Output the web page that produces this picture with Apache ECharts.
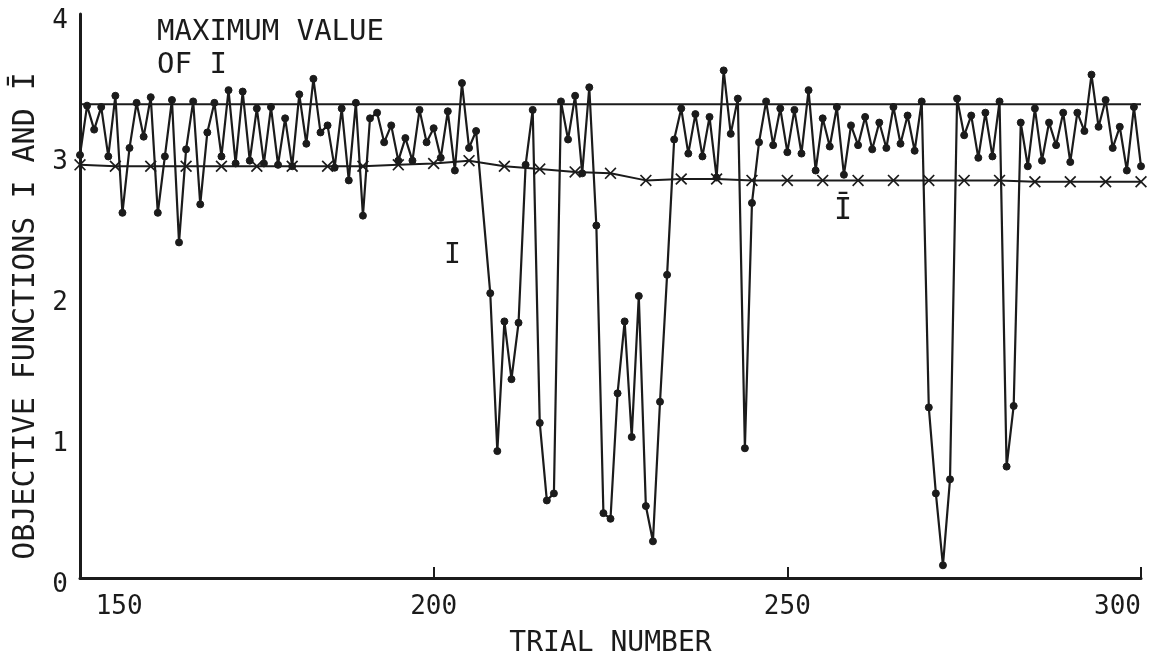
<!DOCTYPE html>
<html>
<head>
<meta charset="utf-8">
<style>
  html, body { margin: 0; padding: 0; background: #fff; }
  #chart { width: 1158px; height: 663px; }
</style>
<script src="https://cdn.jsdelivr.net/npm/echarts@6/dist/echarts.min.js"></script>
</head>
<body>
<div id="chart"></div>
<script>
// trial numbers for the I curve (207 has no point in the original)
var trials = [
  150, 151, 152, 153, 154, 155, 156, 157, 158, 159,
  160, 161, 162, 163, 164, 165, 166, 167, 168, 169,
  170, 171, 172, 173, 174, 175, 176, 177, 178, 179,
  180, 181, 182, 183, 184, 185, 186, 187, 188, 189,
  190, 191, 192, 193, 194, 195, 196, 197, 198, 199,
  200, 201, 202, 203, 204, 205, 206, 208, 209,
  210, 211, 212, 213, 214, 215, 216, 217, 218, 219,
  220, 221, 222, 223, 224, 225, 226, 227, 228, 229,
  230, 231, 232, 233, 234, 235, 236, 237, 238, 239,
  240, 241, 242, 243, 244, 245, 246, 247, 248, 249,
  250, 251, 252, 253, 254, 255, 256, 257, 258, 259,
  260, 261, 262, 263, 264, 265, 266, 267, 268, 269,
  270, 271, 272, 273, 274, 275, 276, 277, 278, 279,
  280, 281, 282, 283, 284, 285, 286, 287, 288, 289,
  290, 291, 292, 293, 294, 295, 296, 297, 298, 299,
  300
];

// objective function I, one value per trial above
var iValues = [
  3.00, 3.35, 3.18, 3.34, 2.99, 3.42, 2.59, 3.05, 3.37, 3.13,
  3.41, 2.59, 2.99, 3.39, 2.38, 3.04, 3.38, 2.65, 3.16, 3.37,
  2.99, 3.46, 2.94, 3.45, 2.96, 3.33, 2.94, 3.34, 2.93, 3.26,
  2.92, 3.43, 3.08, 3.54, 3.16, 3.21, 2.91, 3.33, 2.82, 3.37,
  2.57, 3.26, 3.30, 3.09, 3.21, 2.96, 3.12, 2.96, 3.32, 3.09,
  3.19, 2.98, 3.31, 2.89, 3.51, 3.05, 3.17, 2.02, 0.90,
  1.82, 1.41, 1.81, 2.93, 3.32, 1.10, 0.55, 0.60, 3.38, 3.11,
  3.42, 2.87, 3.48, 2.50, 0.46, 0.42, 1.31, 1.82, 1.00, 2.00,
  0.51, 0.26, 1.25, 2.15, 3.11, 3.33, 3.01, 3.29, 2.99, 3.27,
  2.84, 3.60, 3.15, 3.40, 0.92, 2.66, 3.09, 3.38, 3.07, 3.33,
  3.02, 3.32, 3.01, 3.46, 2.89, 3.26, 3.06, 3.34, 2.86, 3.21,
  3.07, 3.27, 3.04, 3.23, 3.05, 3.34, 3.08, 3.28, 3.03, 3.38,
  1.21, 0.60, 0.09, 0.70, 3.40, 3.14, 3.28, 2.98, 3.30, 2.99,
  3.38, 0.79, 1.22, 3.23, 2.92, 3.33, 2.96, 3.23, 3.07, 3.30,
  2.95, 3.30, 3.17, 3.57, 3.20, 3.39, 3.05, 3.20, 2.89, 3.34,
  2.92
];

// running mean I-bar, marked every 5 trials
var barTrials = [
  150, 155, 160, 165, 170, 175, 180, 185, 190, 195,
  200, 205, 210, 215, 220, 225, 230, 235, 240, 245,
  250, 255, 260, 265, 270, 275, 280, 285, 290, 295, 300
];
var barValues = [
  2.93, 2.92, 2.92, 2.92, 2.92, 2.92, 2.92, 2.92, 2.92, 2.93,
  2.94, 2.96, 2.92, 2.90, 2.88, 2.87, 2.82, 2.83, 2.83, 2.82,
  2.82, 2.82, 2.82, 2.82, 2.82, 2.82, 2.82, 2.81, 2.81, 2.81, 2.81
];

// maximum value of I (horizontal reference line)
var maxTrials = [150, 300];
var maxValue = 3.36;

var xTicks = [150, 200, 250, 300];
var yTicks = [0, 1, 2, 3, 4];

var ink = '#1b1b1b';
var font = 'DejaVu Sans Mono';

function pairs(xs, ys) {
  return xs.map(function (x, i) { return [x, ys[i]]; });
}

var crossSymbol = 'path://M0,1L1,0L5,4L9,0L10,1L6,5L10,9L9,10L5,6L1,10L0,9L4,5Z';

var dom = document.getElementById('chart');
var myChart = echarts.init(dom, null, { renderer: 'canvas' });

var option = {
  backgroundColor: '#ffffff',
  animation: false,
  grid: { left: 80, right: 17, top: 14, bottom: 85, containLabel: false },
  xAxis: {
    type: 'value',
    min: xTicks[0],
    max: xTicks[xTicks.length - 1],
    interval: 50,
    name: 'TRIAL NUMBER',
    nameLocation: 'middle',
    nameGap: 52,
    nameTextStyle: { fontFamily: font, fontSize: 28, color: ink },
    axisLine: { lineStyle: { color: ink, width: 3 } },
    axisTick: { inside: true, length: 11, lineStyle: { color: ink, width: 2 } },
    axisLabel: {
      fontFamily: font, fontSize: 26, color: ink, margin: 16,
      alignMinLabel: 'left', alignMaxLabel: 'right',
      formatter: function (v) { return v === xTicks[0] ? ' ' + v : String(v); }
    },
    splitLine: { show: false }
  },
  yAxis: {
    type: 'value',
    min: yTicks[0],
    max: yTicks[yTicks.length - 1],
    interval: 1,
    name: 'OBJECTIVE FUNCTIONS I AND Ī',
    nameLocation: 'middle',
    nameGap: 14,
    nameTextStyle: { fontFamily: font, fontSize: 30, color: ink, padding: [0, 40, 0, 0] },
    axisLine: { lineStyle: { color: ink, width: 3 } },
    axisTick: { show: false },
    axisLabel: {
      fontFamily: font, fontSize: 26, color: ink, margin: 12,
      verticalAlign: 'top', padding: [-6, 0, 0, 0]
    },
    splitLine: { show: false }
  },
  graphic: [
    {
      type: 'text', left: 157, top: 16,
      style: {
        text: 'MAXIMUM VALUE\nOF I', fontFamily: font, fontSize: 29,
        lineHeight: 33, fill: ink
      }
    },
    {
      type: 'text', left: 444, top: 242,
      style: { text: 'I', fontFamily: font, fontSize: 28, fill: ink }
    },
    {
      type: 'text', left: 834, top: 196,
      style: { text: 'Ī', fontFamily: font, fontSize: 30, fill: ink }
    }
  ],
  series: [
    {
      name: 'max',
      type: 'line',
      data: pairs(maxTrials, [maxValue, maxValue]),
      showSymbol: false,
      lineStyle: { color: ink, width: 2 },
      silent: true
    },
    {
      name: 'Ibar',
      type: 'line',
      data: pairs(barTrials, barValues),
      symbol: crossSymbol,
      symbolSize: 12,
      itemStyle: { color: ink },
      lineStyle: { color: ink, width: 2 }
    },
    {
      name: 'I',
      type: 'line',
      data: pairs(trials, iValues),
      symbol: 'circle',
      symbolSize: 7,
      itemStyle: { color: ink, borderColor: ink, borderWidth: 1 },
      lineStyle: { color: ink, width: 2.2 }
    }
  ]
};

myChart.setOption(option);
window.addEventListener('resize', myChart.resize);
</script>
</body>
</html>
